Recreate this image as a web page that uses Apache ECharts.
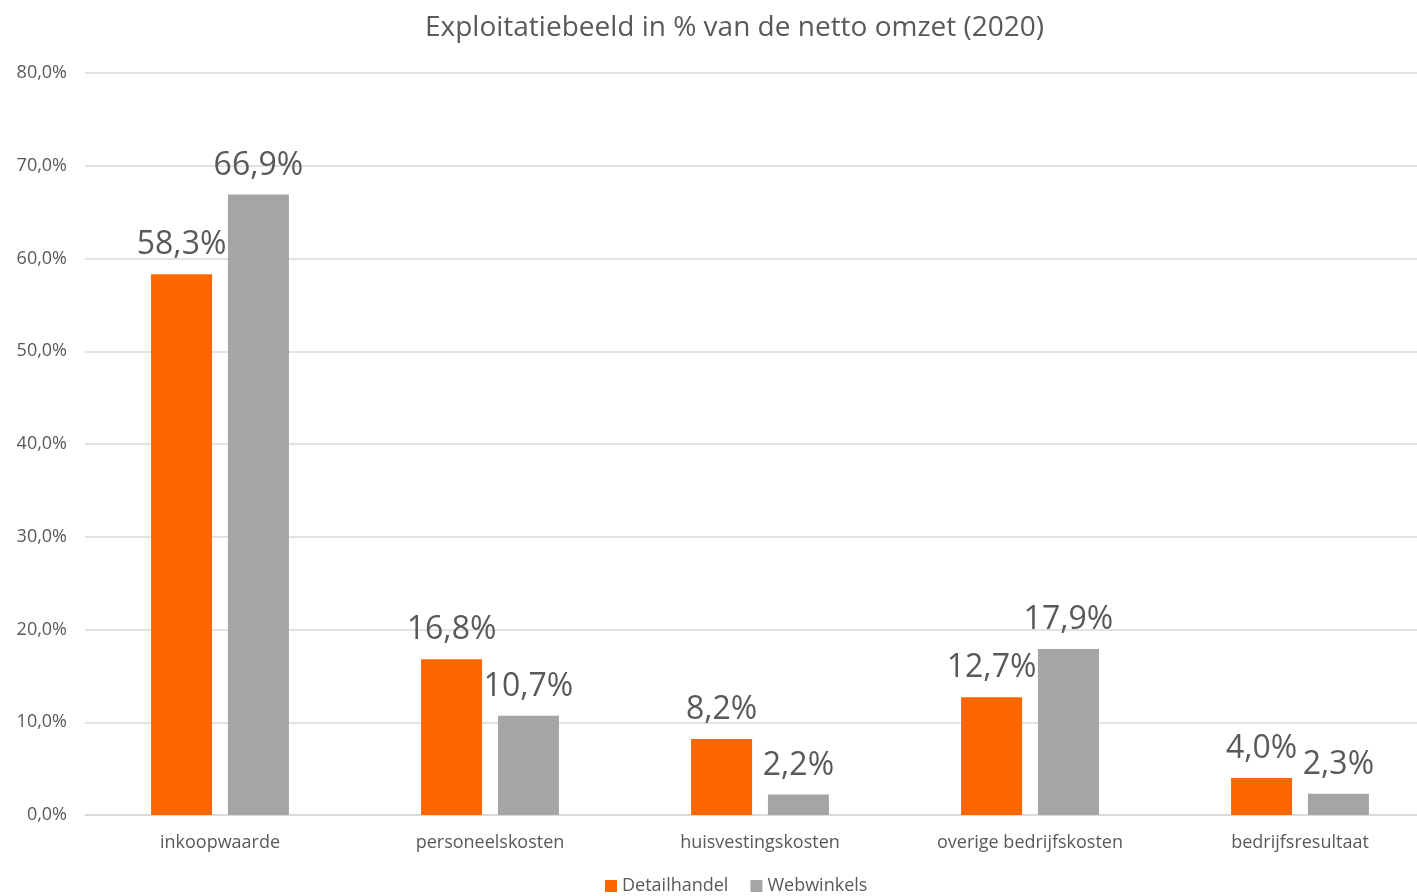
<!DOCTYPE html>
<html>
<head>
<meta charset="utf-8">
<script src="https://cdn.jsdelivr.net/npm/echarts@6/dist/echarts.min.js"></script>
<style>
  html, body { margin: 0; padding: 0; background: #fff; overflow: hidden; }
  #chart { width: 1435px; height: 896px; }
</style>
</head>
<body>
<div id="chart"></div>
<script>
// data
var categories = ['inkoopwaarde', 'personeelskosten', 'huisvestingskosten', 'overige bedrijfskosten', 'bedrijfsresultaat'];
var detailhandel = [58.3, 16.8, 8.2, 12.7, 4.0];
var webwinkels = [66.9, 10.7, 2.2, 17.9, 2.3];

var fmt = function (v) { return v.toFixed(1).replace('.', ',') + '%'; };
var font = 'Open Sans';

// plot area runs a bit past the right edge of the window, as in the original
var chart = echarts.init(document.getElementById('chart'));
chart.setOption({
  animation: false,
  textStyle: { fontFamily: font },
  title: {
    text: 'Exploitatiebeeld in % van de netto omzet (2020)',
    left: 420,
    top: 9,
    textStyle: { fontSize: 28, fontWeight: 'normal', color: '#595959', fontFamily: font }
  },
  legend: {
    bottom: -4,
    left: 600,
    itemWidth: 12,
    itemHeight: 12,
    itemGap: 22,
    icon: 'rect',
    textStyle: { fontSize: 18, color: '#595959', fontFamily: font }
  },
  grid: { left: 85, right: 0, top: 73, bottom: 81 },
  xAxis: {
    type: 'category',
    data: categories,
    axisTick: { show: false },
    axisLine: { lineStyle: { color: '#D9D9D9', width: 1.5 } },
    axisLabel: { fontSize: 18, color: '#595959', margin: 19, fontFamily: font }
  },
  yAxis: {
    type: 'value',
    min: 0,
    max: 80,
    interval: 10,
    axisLabel: {
      fontSize: 18, color: '#595959', margin: 18, fontFamily: font,
      formatter: function (v) { return fmt(v); }
    },
    splitLine: { lineStyle: { color: '#D9D9D9', width: 1.5 } },
    axisLine: { show: false },
    axisTick: { show: false }
  },
  series: [
    {
      name: 'Detailhandel',
      type: 'bar',
      data: detailhandel,
      barWidth: 61,
      barGap: '26%',
      itemStyle: { color: '#FF6600' },
      label: {
        show: true, position: 'top', distance: 13, fontSize: 32, color: '#595959', fontFamily: font,
        formatter: function (p) { return fmt(p.value); }
      }
    },
    {
      name: 'Webwinkels',
      type: 'bar',
      data: webwinkels,
      barWidth: 61,
      itemStyle: { color: '#A5A5A5' },
      label: {
        show: true, position: 'top', distance: 13, fontSize: 32, color: '#595959', fontFamily: font,
        formatter: function (p) { return fmt(p.value); }
      }
    }
  ]
});
</script>
</body>
</html>
